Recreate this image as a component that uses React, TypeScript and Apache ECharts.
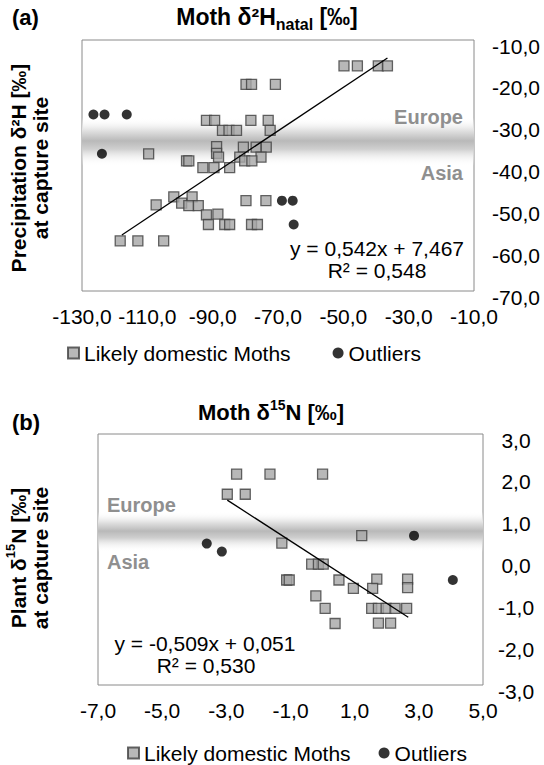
import React, { useEffect, useRef } from 'react';
import * as echarts from 'echarts';

const FONT = "'Liberation Sans', Arial, sans-serif";

// ---- Panel (a): Moth δ2H natal vs precipitation δ2H ----
const xTicksA = [-130, -110, -90, -70, -50, -30, -10];
const yTicksA = [-70, -60, -50, -40, -30, -20, -10];
const domesticA: [number, number][] = [
  [-79.8, -20.6], [-78.1, -20.6], [-70.8, -20.6],
  [-91.9, -29.2], [-89.4, -29.2], [-78.3, -29.2], [-73.0, -29.2],
  [-87.0, -31.6], [-85.0, -31.6], [-82.7, -31.6], [-72.4, -31.6],
  [-88.8, -35.5], [-80.6, -35.6], [-76.7, -35.6], [-73.6, -35.6],
  [-109.6, -37.2], [-88.8, -37.1], [-88.2, -38.0], [-81.7, -38.0], [-75.2, -38.0],
  [-98.0, -38.9], [-97.3, -38.9], [-80.2, -38.9], [-78.0, -38.9],
  [-93.0, -40.5], [-89.6, -40.5], [-84.8, -40.5],
  [-101.9, -47.5], [-96.3, -47.5], [-79.8, -48.4], [-73.7, -48.4],
  [-107.3, -49.4], [-99.5, -49.0], [-97.3, -49.6], [-94.4, -49.6],
  [-91.9, -51.8], [-88.4, -51.6],
  [-91.3, -54.1], [-86.3, -54.1], [-84.8, -54.1], [-78.1, -54.1], [-76.3, -54.1],
  [-118.3, -58.0], [-112.9, -58.0], [-105.0, -58.0],
  [-49.8, -16.2], [-45.7, -16.2], [-39.3, -16.2], [-36.5, -16.2],
];
const outliersA: [number, number][] = [
  [-126.5, -27.8], [-123.1, -27.8], [-116.3, -27.8], [-123.9, -37.2],
  [-68.8, -48.4], [-65.5, -48.4], [-65.2, -54.1],
];
const trendA: [number, number][] = [[-117.8, -56.6], [-36.5, -14.3]];
const bandA = [-28.6, -40.1];

// ---- Panel (b): Moth δ15N vs plant δ15N ----
const xTicksB = [-7, -5, -3, -1, 1, 3, 5];
const yTicksB = [-3, -2, -1, 0, 1, 2, 3];
const domesticB: [number, number][] = [
  [-2.68, 2.04], [-1.64, 2.04], [0.0, 2.04],
  [-2.97, 1.56], [-2.41, 1.56],
  [-1.27, 0.39], [1.22, 0.57],
  [-0.34, -0.11], [-0.13, -0.11], [0.02, -0.11],
  [-1.12, -0.49], [-1.04, -0.49], [0.51, -0.49], [1.69, -0.47], [2.65, -0.47],
  [0.96, -0.69], [1.56, -0.69], [2.65, -0.67],
  [-0.21, -0.87],
  [0.08, -1.17], [1.53, -1.17], [1.74, -1.17], [1.98, -1.17], [2.26, -1.17], [2.62, -1.17],
  [0.39, -1.53], [1.74, -1.52], [2.12, -1.52],
];
const outliersB: [number, number][] = [
  [-3.61, 0.38], [-3.14, 0.19], [2.85, 0.57], [4.06, -0.49],
];
const trendB: [number, number][] = [[-2.97, 1.42], [2.67, -1.38]];
const bandB = [1.14, 0.18];

const fmt = (v: number) => v.toFixed(1).replace('.', ',');

const bandGradient = () =>
  new echarts.graphic.LinearGradient(0, 0, 0, 1, [
    { offset: 0, color: 'rgba(255,255,255,0)' },
    { offset: 0.25, color: '#e4e4e4' },
    { offset: 0.48, color: '#b9b9b9' },
    { offset: 0.65, color: '#cfcfcf' },
    { offset: 1, color: 'rgba(255,255,255,0)' },
  ]);

const sqStyle = { color: '#a6a6a6', borderColor: '#3f3f3f', borderWidth: 1.3 };
const dotStyle = { color: '#000000' };

function xAxisCfg(grid: number, min: number, max: number, ticks: number[]) {
  return {
    type: 'value', gridIndex: grid, min, max,
    axisLine: { show: false }, axisTick: { show: false }, splitLine: { show: false },
    axisLabel: {
      customValues: ticks, formatter: (v: number) => fmt(v), margin: 15,
      fontSize: 21, color: '#000', fontFamily: FONT,
    },
  };
}
function yAxisCfg(grid: number, min: number, max: number, ticks: number[], margin: number) {
  return {
    type: 'value', gridIndex: grid, min, max, interval: (max - min) / 6, position: 'right',
    axisLine: { show: false }, axisTick: { show: false }, splitLine: { show: false },
    axisLabel: {
      customValues: ticks, formatter: (v: number) => '{v|' + fmt(v) + '}', margin,
      fontSize: 21, color: '#000', fontFamily: FONT, align: 'center', verticalAlign: 'middle',
      rich: { v: { fontSize: 21, color: '#000', fontFamily: FONT, padding: [12, 0, 0, 0] } },
    },
  };
}

function txt(text: string, x: number, y: number, opts: any = {}) {
  const { rotation, ...style } = opts;
  return {
    type: 'text', x, y, rotation: rotation || 0, z: 10,
    style: {
      text, fontFamily: FONT, fontSize: 21, fill: '#000', align: 'center', verticalAlign: 'middle',
      ...style,
    },
  };
}

const richMain = { fontSize: 22, fontWeight: 'bold', fontFamily: FONT, fill: '#000', lineHeight: 29 };
const richMainA = { fontSize: 23, fontWeight: 'bold', fontFamily: FONT, fill: '#000', lineHeight: 30 };
const richSup = { fontSize: 14, fontWeight: 'bold', fontFamily: FONT, fill: '#000', verticalAlign: 'top' };
const richSub = { fontSize: 16, fontWeight: 'bold', fontFamily: FONT, fill: '#000', verticalAlign: 'bottom' };
const richMainY = { fontSize: 21, fontWeight: 'bold', fontFamily: FONT, fill: '#000', lineHeight: 28 };
const richSupY = { fontSize: 13, fontWeight: 'bold', fontFamily: FONT, fill: '#000', verticalAlign: 'top' };

export default function App() {
  const ref = useRef<HTMLDivElement>(null);
  useEffect(() => {
    if (!ref.current) return;
    const chart = echarts.init(ref.current, undefined, { renderer: 'svg' });
    const option: any = {
      animation: false,
      backgroundColor: '#ffffff',
      grid: [
        { left: 82, top: 40, width: 392, height: 251, show: true, borderColor: '#8a8a8a', borderWidth: 1, backgroundColor: 'transparent' },
        { left: 98, top: 434, width: 385, height: 251, show: true, borderColor: '#8a8a8a', borderWidth: 1, backgroundColor: 'transparent' },
      ],
      xAxis: [
        xAxisCfg(0, -130, -10, xTicksA),
        xAxisCfg(1, -7, 5, xTicksB),
      ],
      yAxis: [
        yAxisCfg(0, -70, -10, yTicksA, 42),
        yAxisCfg(1, -3, 3, yTicksB, 33),
      ],
      legend: [
        {
          data: [{ name: 'Likely domestic Moths', icon: 'rect' }, { name: 'Outliers', icon: 'circle' }],
          left: 62, top: 337, itemWidth: 11, itemHeight: 11, itemGap: 42,
          textStyle: { fontSize: 21, color: '#000', fontFamily: FONT, lineHeight: 22 },
        },
        {
          data: [{ name: 'Likely domestic Moths', icon: 'rect' }, { name: 'Outliers', icon: 'circle' }],
          left: 122, top: 737, itemWidth: 11, itemHeight: 11, itemGap: 28,
          textStyle: { fontSize: 21, color: '#000', fontFamily: FONT, lineHeight: 22 },
        },
      ],
      series: [
        {
          type: 'scatter', name: 'bandA', xAxisIndex: 0, yAxisIndex: 0, data: [], z: 1, silent: true,
          markArea: { silent: true, itemStyle: { color: bandGradient() }, data: [[{ yAxis: bandA[0] }, { yAxis: bandA[1] }]] },
        },
        {
          type: 'scatter', name: 'Likely domestic Moths', xAxisIndex: 0, yAxisIndex: 0, data: domesticA,
          symbol: 'rect', symbolSize: 10, itemStyle: sqStyle, z: 2,
        },
        {
          type: 'scatter', name: 'Outliers', xAxisIndex: 0, yAxisIndex: 0, data: outliersA,
          symbol: 'circle', symbolSize: 10, itemStyle: dotStyle, z: 2,
        },
        {
          type: 'line', name: 'trendA', xAxisIndex: 0, yAxisIndex: 0, data: trendA, symbol: 'none',
          lineStyle: { color: '#000', width: 1.3 }, z: 3,
        },
        {
          type: 'scatter', name: 'bandB', xAxisIndex: 1, yAxisIndex: 1, data: [], z: 1, silent: true,
          markArea: { silent: true, itemStyle: { color: bandGradient() }, data: [[{ yAxis: bandB[0] }, { yAxis: bandB[1] }]] },
        },
        {
          type: 'scatter', name: 'Likely domestic Moths', xAxisIndex: 1, yAxisIndex: 1, data: domesticB,
          symbol: 'rect', symbolSize: 10, itemStyle: sqStyle, z: 2,
        },
        {
          type: 'scatter', name: 'Outliers', xAxisIndex: 1, yAxisIndex: 1, data: outliersB,
          symbol: 'circle', symbolSize: 10, itemStyle: dotStyle, z: 2,
        },
        {
          type: 'line', name: 'trendB', xAxisIndex: 1, yAxisIndex: 1, data: trendB, symbol: 'none',
          lineStyle: { color: '#000', width: 1.3 }, z: 3,
        },
      ],
      graphic: [
        txt('(a)', 12, 17, { align: 'left', fontWeight: 'bold', fontSize: 22 }),
        txt('{m|Moth δ²H}{s|natal}{m| [‰]}', 267, 17, { rich: { m: richMainA, s: richSub } }),
        txt('Precipitation δ²H [‰]', 18, 168, { fontWeight: 'bold', rotation: Math.PI / 2 }),
        txt('at capture site', 40, 168, { fontWeight: 'bold', rotation: Math.PI / 2 }),
        txt('Europe', 463, 117, { align: 'right', fontWeight: 'bold', fill: '#8f8f8f', fontSize: 20 }),
        txt('Asia', 463, 173, { align: 'right', fontWeight: 'bold', fill: '#8f8f8f', fontSize: 20 }),
        txt('y = 0,542x + 7,467', 377, 248),
        txt('R² = 0,548', 377, 270),
        txt('(b)', 12, 422, { align: 'left', fontWeight: 'bold', fontSize: 22 }),
        txt('{m|Moth δ}{p|15}{m|N [‰]}', 271, 412, { rich: { m: richMain, p: richSup } }),
        txt('{m|Plant δ}{p|15}{m|N [‰]}', 18, 558, { rotation: Math.PI / 2, rich: { m: richMainY, p: richSupY } }),
        txt('at capture site', 40, 558, { fontWeight: 'bold', rotation: Math.PI / 2 }),
        txt('Europe', 107, 505, { align: 'left', fontWeight: 'bold', fill: '#8f8f8f', fontSize: 20 }),
        txt('Asia', 107, 562, { align: 'left', fontWeight: 'bold', fill: '#8f8f8f', fontSize: 20 }),
        txt('y = -0,509x + 0,051', 205, 643),
        txt('R² = 0,530', 206, 665),
      ],
    };
    chart.setOption(option);
    return () => chart.dispose();
  }, []);
  return (
    <div
      ref={ref}
      style={{ position: 'absolute', left: 0, top: 0, width: 544, height: 765, background: '#fff' }}
    />
  );
}
